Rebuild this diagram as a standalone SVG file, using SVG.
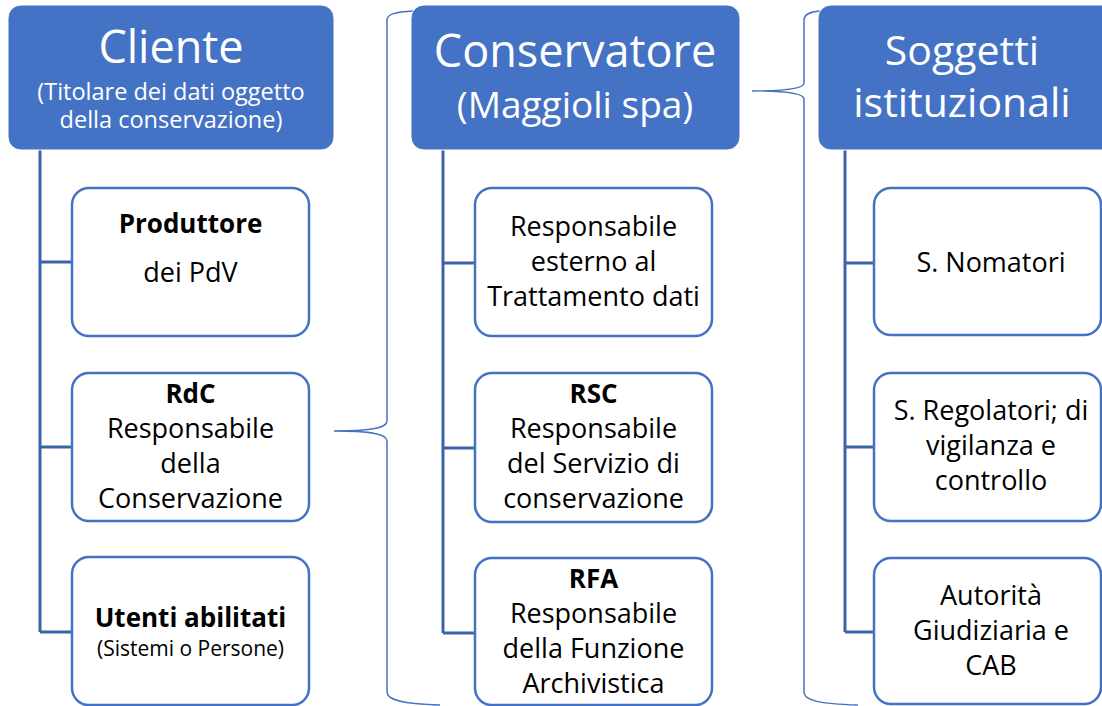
<svg xmlns="http://www.w3.org/2000/svg" width="1102" height="706" viewBox="0 0 1102 706">
<style>
.hdr{fill:#4472C4;stroke:#ffffff;stroke-width:1}
.box{fill:#ffffff;stroke:#4472C4;stroke-width:2.5}
.ht{font-family:"Open Sans","Noto Sans",sans-serif;fill:#ffffff;text-anchor:middle}
.t{font-family:"Open Sans","Noto Sans",sans-serif;fill:#000000;text-anchor:middle;font-size:27px}
.b{font-weight:bold;font-size:26px}
.s{font-size:21px}
.conn{fill:none;stroke:#3E62A8;stroke-width:3}
.brace{fill:none;stroke:#4472C4;stroke-width:1.5}
</style>
<rect width="1102" height="706" fill="#ffffff"/>
<g id="connectors">
<path class="conn" d="M40 150 V632 M40 262 H72 M40 447 H72 M40 632 H72"/>
<path class="conn" d="M443 150 V633 M443 263 H475 M443 448 H475 M443 633 H475"/>
<path class="conn" d="M845 150 V632 M845 263 H874 M845 447 H874 M845 632 H874"/>
<path class="brace" d="M413 11 C396 12 387 14 387 20 L387 421 C387 428 372 431 334 431 C372 431 387 434 387 441 L387 692 C387 700 402 704 440 705"/>
<path class="brace" d="M820 11 C810 12 804 14 804 20 L804 83 C804 88 790 91 752 91 C790 91 804 94 804 99 L804 692 C804 700 818 704 858 705"/>
</g>
<g id="cliente">
<rect class="hdr" x="8" y="5" width="326" height="145" rx="13"/>
<text class="ht" x="171" y="63" font-size="45">Cliente</text>
<text class="ht" x="171" y="100" font-size="23.5">(Titolare dei dati oggetto</text>
<text class="ht" x="171" y="128" font-size="23.5">della conservazione)</text>
</g>
<g id="conservatore">
<rect class="hdr" x="411" y="5" width="329" height="145" rx="13"/>
<text class="ht" x="575" y="67" font-size="45">Conservatore</text>
<text class="ht" x="575" y="118" font-size="37">(Maggioli spa)</text>
</g>
<g id="soggetti">
<rect class="hdr" x="818" y="5" width="300" height="145" rx="13"/>
<text class="ht" x="962" y="65" font-size="41">Soggetti</text>
<text class="ht" x="962" y="117" font-size="41">istituzionali</text>
</g>
<g id="produttore">
<rect class="box" x="72" y="188" width="237" height="148" rx="17"/>
<text class="t b" x="190.5" y="233">Produttore</text>
<text class="t" x="190.5" y="282">dei PdV</text>
</g>
<g id="rdc">
<rect class="box" x="72" y="373" width="237" height="148" rx="17"/>
<text class="t b" x="190.5" y="403">RdC</text>
<text class="t" x="190.5" y="438">Responsabile</text>
<text class="t" x="190.5" y="473">della</text>
<text class="t" x="190.5" y="508">Conservazione</text>
</g>
<g id="utenti">
<rect class="box" x="72" y="557" width="237" height="148" rx="17"/>
<text class="t b" x="190.5" y="627">Utenti abilitati</text>
<text class="t s" x="190.5" y="656">(Sistemi o Persone)</text>
</g>
<g id="resp-esterno">
<rect class="box" x="475" y="188" width="237" height="148" rx="17"/>
<text class="t" x="593.5" y="236">Responsabile</text>
<text class="t" x="593.5" y="271">esterno al</text>
<text class="t" x="593.5" y="306">Trattamento dati</text>
</g>
<g id="rsc">
<rect class="box" x="475" y="373" width="237" height="149" rx="17"/>
<text class="t b" x="593.5" y="403">RSC</text>
<text class="t" x="593.5" y="438">Responsabile</text>
<text class="t" x="593.5" y="473">del Servizio di</text>
<text class="t" x="593.5" y="508">conservazione</text>
</g>
<g id="rfa">
<rect class="box" x="475" y="558" width="237" height="147" rx="17"/>
<text class="t b" x="593.5" y="588">RFA</text>
<text class="t" x="593.5" y="623">Responsabile</text>
<text class="t" x="593.5" y="658">della Funzione</text>
<text class="t" x="593.5" y="693">Archivistica</text>
</g>
<g id="nomatori">
<rect class="box" x="874" y="188" width="227" height="147" rx="17"/>
<text class="t" x="991" y="272">S. Nomatori</text>
</g>
<g id="regolatori">
<rect class="box" x="874" y="373" width="227" height="148" rx="17"/>
<text class="t" x="991" y="420">S. Regolatori; di</text>
<text class="t" x="991" y="455">vigilanza e</text>
<text class="t" x="991" y="490">controllo</text>
</g>
<g id="autorita">
<rect class="box" x="874" y="558" width="227" height="146" rx="17"/>
<text class="t" x="991" y="605">Autorità</text>
<text class="t" x="991" y="640">Giudiziaria e</text>
<text class="t" x="991" y="675">CAB</text>
</g>
</svg>
